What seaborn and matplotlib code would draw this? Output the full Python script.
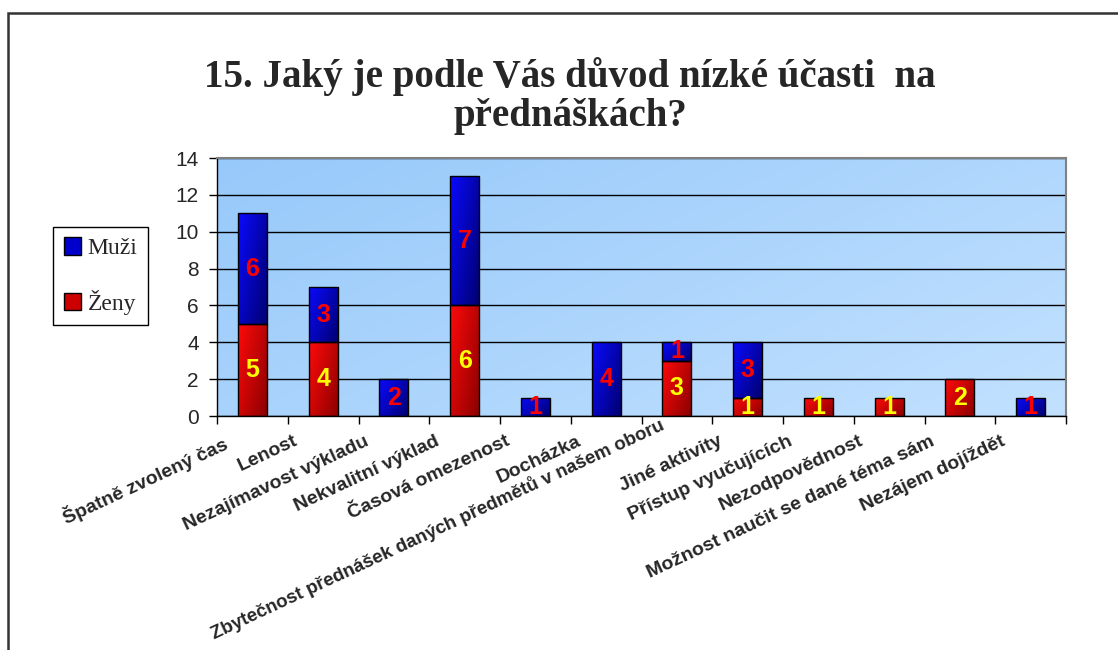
"""Důvody nízké účasti na přednáškách - skládaný sloupcový graf (Muži / Ženy)."""

import matplotlib

matplotlib.use("Agg")

import matplotlib.pyplot as plt
import numpy as np
import seaborn as sns
from matplotlib.colors import to_rgb
from matplotlib.patches import Patch, Rectangle
from matplotlib.transforms import ScaledTranslation


KATEGORIE = [
    "Špatně zvolený čas",
    "Lenost",
    "Nezajímavost výkladu",
    "Nekvalitní výklad",
    "Časová omezenost",
    "Docházka",
    "Zbytečnost přednášek daných předmětů v našem oboru",
    "Jiné aktivity",
    "Přístup vyučujících",
    "Nezodpovědnost",
    "Možnost naučit se dané téma sám",
    "Nezájem dojíždět",
]
ZENY = [5, 4, 0, 6, 0, 0, 3, 1, 1, 1, 2, 0]
MUZI = [6, 3, 2, 7, 1, 4, 1, 3, 0, 0, 0, 1]
Y_TICKS = [0, 2, 4, 6, 8, 10, 12, 14]

TITULEK = "15. Jaký je podle Vás důvod nízké účasti  na\npřednáškách?"

MODRA = ("#0a0aff", "#00006e")
CERVENA = ("#ff0a0a", "#8a0000")


def gradient(svetla, tmava, n=64):
    """Diagonální přechod z levého horního rohu do pravého dolního."""
    u = np.linspace(0, 1, n)[None, :]
    v = np.linspace(0, 1, n)[:, None]
    t = np.clip(0.6 * u + 0.4 * v, 0, 1)[..., None]
    a = np.array(to_rgb(svetla))
    b = np.array(to_rgb(tmava))
    return a * (1 - t) + b * t


sns.set_style("white")
plt.rcParams["font.family"] = ["Liberation Sans", "DejaVu Sans"]

fig = plt.figure(figsize=(11.18, 6.5), dpi=100)
ax = fig.add_axes([217 / 1118, 1 - 416 / 650, (1066 - 217) / 1118, (416 - 158) / 650])

# pozadí grafu
pozadi = gradient("#97c9fa", "#c2e1ff")
ax.imshow(pozadi, extent=[0, 1, 0, 1], transform=ax.transAxes,
          aspect="auto", zorder=0, interpolation="bilinear")

sns.barplot(x=KATEGORIE, y=ZENY, color=CERVENA[0], width=0.41,
            edgecolor="black", linewidth=1, ax=ax, zorder=2)
n_zeny = len(ax.patches)
sns.barplot(x=KATEGORIE, y=MUZI, bottom=ZENY, color=MODRA[0], width=0.41,
            edgecolor="black", linewidth=1, ax=ax, zorder=2)

# přechody ve sloupcích a popisky hodnot
for i, p in enumerate(list(ax.patches)):
    x0, y0, w, h = p.get_x(), p.get_y(), p.get_width(), p.get_height()
    if h <= 0:
        p.set_visible(False)
        continue
    barvy = CERVENA if i < n_zeny else MODRA
    im = ax.imshow(gradient(*barvy), extent=[x0, x0 + w, y0, y0 + h],
                   aspect="auto", zorder=2, interpolation="bilinear")
    im.set_clip_path(p)
    p.set_facecolor("none")
    p.set_zorder(3)
    ax.text(x0 + w / 2, y0 + h / 2, f"{int(h)}",
            ha="center", va="center", fontsize=18, fontweight="bold",
            color="#ffff00" if i < n_zeny else "#ff0000", zorder=4)

ax.set_xlim(-0.5, len(KATEGORIE) - 0.5)
ax.set_ylim(0, 14)
ax.set_yticks(Y_TICKS)
ax.set_yticklabels([str(t) for t in Y_TICKS], fontsize=15)
ax.set_xlabel("")
ax.set_ylabel("")

ax.set_axisbelow(True)
ax.yaxis.grid(True, color="black", linewidth=1)
ax.xaxis.grid(False)

ax.set_xticks(np.arange(-0.5, len(KATEGORIE), 1), minor=True)
ax.tick_params(axis="x", which="minor", length=6, width=1, color="black",
               direction="out", bottom=True)
ax.tick_params(axis="x", which="major", length=0, pad=12)
ax.tick_params(axis="y", length=6, width=1, color="black", direction="out",
               left=True, pad=7)
ax.set_xticks(range(len(KATEGORIE)))
ax.set_xticklabels(KATEGORIE, rotation=25, ha="right", va="top",
                   rotation_mode="anchor", fontsize=14, fontweight="bold")
nejdelsi = max(range(len(KATEGORIE)), key=lambda k: len(KATEGORIE[k]))
for k, lab in enumerate(ax.get_xticklabels()):
    # nejdelší popisek je v originále posazen výš, aby se vešel
    if k == nejdelsi:
        lab.set_fontsize(13.5)
        dx, dy = (-0.18, 0.17)
    else:
        dx, dy = (-0.3, 0)
    lab.set_transform(lab.get_transform()
                      + ScaledTranslation(dx, dy, fig.dpi_scale_trans))

for strana in ("left", "bottom"):
    ax.spines[strana].set_color("black")
    ax.spines[strana].set_linewidth(1)
for strana in ("top", "right"):
    ax.spines[strana].set_color("#808080")
    ax.spines[strana].set_linewidth(1.5)

fig.text(570 / 1118, 1 - 96 / 650, TITULEK, ha="center", va="center",
         fontsize=28, fontweight="bold", family=["Liberation Serif", "DejaVu Serif"],
         linespacing=1.1)

legenda = fig.legend(
    handles=[Patch(facecolor="#0000cc", edgecolor="black", label="Muži"),
             Patch(facecolor="#cc0000", edgecolor="black", label="Ženy")],
    loc="center", bbox_to_anchor=(100.5 / 1118, 1 - 276 / 650),
    prop={"family": "Liberation Serif", "size": 17},
    handlelength=0.75, handleheight=0.75, handletextpad=0.25,
    labelspacing=1.3, borderpad=0.45, fancybox=False, framealpha=1,
)
legenda.get_frame().set_edgecolor("black")
legenda.get_frame().set_linewidth(1)

# rámeček kolem celého obrázku
fig.patches.append(Rectangle((8 / 1118, -0.1), 2, 1 - 13 / 650 + 0.1,
                             transform=fig.transFigure, fill=False,
                             edgecolor="#333333", linewidth=1.8))

fig.savefig("out.png", dpi=100)
